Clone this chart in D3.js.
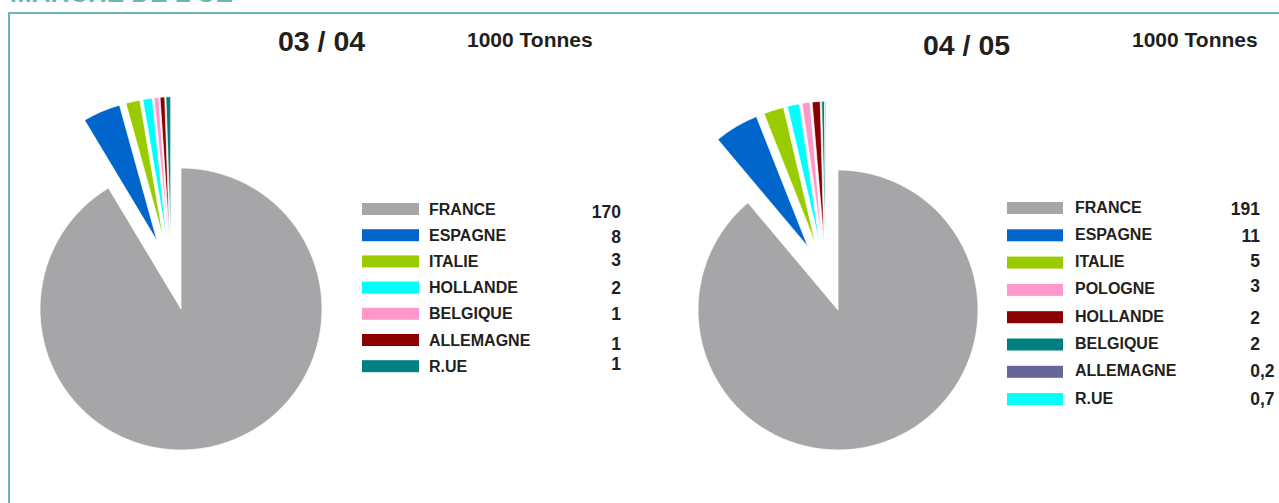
<!DOCTYPE html>
<html><head><meta charset="utf-8">
<script src="https://cdn.jsdelivr.net/npm/d3@7"></script>
<style>
html,body{margin:0;padding:0;background:#fff;}
svg{display:block;font-family:"Liberation Sans",Arial,sans-serif;}
</style></head>
<body>
<svg id="chart" width="1279" height="503"></svg>
<script>
// ---- data ----
const pageTitle = "MARCHE DE L'UE";
const unitLabel = "1000 Tonnes";

const pie1Title = "03 / 04";
const pie1Names = ["FRANCE","ESPAGNE","ITALIE","HOLLANDE","BELGIQUE","ALLEMAGNE","R.UE"];
const pie1Values = [170, 8, 3, 2, 1, 1, 1];
const pie1Labels = ["170","8","3","2","1","1","1"];
const pie1Colors = ["#a6a6a9","#0066cc","#99cc00","#00ffff","#ff99cc","#8b0000","#008080"];

const pie2Title = "04 / 05";
const pie2Names = ["FRANCE","ESPAGNE","ITALIE","POLOGNE","HOLLANDE","BELGIQUE","ALLEMAGNE","R.UE"];
const pie2Values = [191, 11, 5, 3, 2, 2, 0.2, 0.7];
const pie2Labels = ["191","11","5","3","2","2","0,2","0,7"];
const pie2Colors = ["#a6a6a9","#0066cc","#99cc00","#ff99cc","#8b0000","#008080","#666699","#00ffff"];
// order in which the points are drawn in the pie, and the point colours used there
const pie2SliceOrder = [0,1,2,3,4,5,7,6];
const pie2SliceColors = ["#a6a6a9","#0066cc","#99cc00","#00ffff","#ff99cc","#8b0000","#008080","#666699"];

// ---- layout ----
const svg = d3.select("#chart");
const frameColor = "#6bb5b5";
const textColor = "#231f20";

svg.append("text").attr("x", 10).attr("y", 2)
  .attr("font-size", 26).attr("font-weight", "bold").attr("fill", frameColor)
  .text(pageTitle);
svg.append("line").attr("x1", 8).attr("x2", 1279).attr("y1", 13).attr("y2", 13)
  .attr("stroke", frameColor).attr("stroke-width", 2);
svg.append("line").attr("x1", 9).attr("x2", 9).attr("y1", 12).attr("y2", 503)
  .attr("stroke", frameColor).attr("stroke-width", 2);

function drawPanel(cfg) {
  const g = svg.append("g");
  // titles
  g.append("text").attr("x", cfg.titleX).attr("y", cfg.titleY)
    .attr("font-size", 28.5).attr("font-weight", "bold").attr("fill", textColor)
    .text(cfg.title);
  g.append("text").attr("x", cfg.unitX).attr("y", 47)
    .attr("font-size", 21).attr("font-weight", "bold").attr("fill", textColor)
    .text(unitLabel);

  // pie
  const slices = cfg.order.map((k, i) => ({value: cfg.values[k], color: cfg.sliceColors[i]}));
  const pie = d3.pie().sort(null).value(d => d.value);
  const arcs = pie(slices);
  const arc = d3.arc().innerRadius(0).outerRadius(cfg.r);
  const groupMid = (arcs[0].endAngle + 2 * Math.PI) / 2;
  const pg = g.append("g").attr("transform", `translate(${cfg.cx},${cfg.cy})`);
  pg.selectAll("path").data(arcs).join("path")
    .attr("d", arc)
    .attr("fill", d => d.data.color)
    .attr("stroke", "#fff").attr("stroke-width", 0.7)
    .attr("transform", (d, i) => {
      if (i === 0) return null;
      const own = (d.startAngle + d.endAngle) / 2;
      const a = (own + groupMid) / 2;
      return `translate(${Math.sin(a) * cfg.explode},${-Math.cos(a) * cfg.explode})`;
    });

  // legend
  const y = d3.scaleLinear().domain([0, 1]).range([cfg.legTop, cfg.legTop + cfg.legStep]);
  const lg = g.append("g");
  cfg.names.forEach((n, i) => {
    const top = y(i);
    lg.append("rect").attr("x", cfg.rectX).attr("y", top).attr("width", cfg.rectW).attr("height", 12)
      .attr("fill", cfg.colors[i]);
    lg.append("text").attr("x", cfg.textX).attr("y", top + cfg.textDy)
      .attr("font-size", 16).attr("font-weight", "bold").attr("fill", textColor).text(n);
    const lab = cfg.labels[i];
    const parts = lab.split(",");
    const vy = top + cfg.textDy + cfg.valueNudge[i];
    lg.append("text").attr("x", cfg.valueX).attr("y", vy).attr("text-anchor", "end")
      .attr("font-size", 17.5).attr("font-weight", "bold").attr("fill", textColor).text(parts[0]);
    if (parts.length > 1) {
      lg.append("text").attr("x", cfg.valueX).attr("y", vy).attr("text-anchor", "start")
        .attr("font-size", 17.5).attr("font-weight", "bold").attr("fill", textColor).text("," + parts[1]);
    }
  });
}

drawPanel({
  title: pie1Title, titleX: 278, titleY: 51, unitX: 467,
  values: pie1Values, order: pie1Values.map((d, i) => i), sliceColors: pie1Colors,
  cx: 181, cy: 309, r: 141, explode: 72,
  names: pie1Names, labels: pie1Labels, colors: pie1Colors,
  legTop: 203, legStep: 26.2, rectX: 362, rectW: 57, textX: 429, textDy: 11.5,
  valueX: 621, valueNudge: [3, 2, -1, 1, 1, 4, -2]
});
drawPanel({
  title: pie2Title, titleX: 923, titleY: 55, unitX: 1132,
  values: pie2Values, order: pie2SliceOrder, sliceColors: pie2SliceColors,
  cx: 838, cy: 310, r: 140, explode: 70,
  names: pie2Names, labels: pie2Labels, colors: pie2Colors,
  legTop: 202, legStep: 27.3, rectX: 1007, rectW: 56, textX: 1075, textDy: 10.5,
  valueX: 1260, valueNudge: [2, 2, 0, -2, 2, 1, 1, 1]
});
</script>
</body></html>
